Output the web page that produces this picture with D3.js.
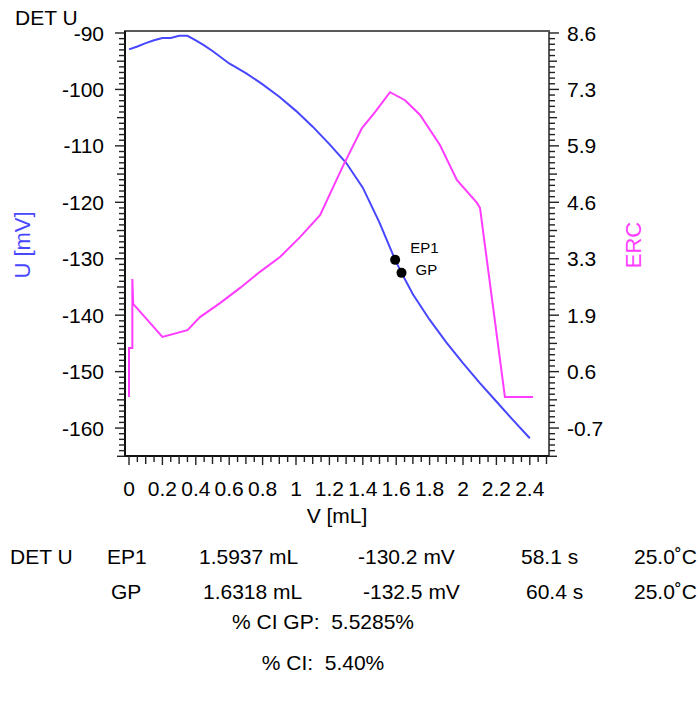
<!DOCTYPE html>
<html>
<head>
<meta charset="UTF-8">
<script src="https://cdn.jsdelivr.net/npm/d3@7"></script>
<style>
  body { margin: 0; background: #fff; }
  text { font-family: "Liberation Sans", Arial, sans-serif; fill: #000; }
</style>
</head>
<body>
<svg width="699" height="703"></svg>
<script>
// titration curve U vs V
var volume = [0, 0.05, 0.1, 0.15, 0.2, 0.25, 0.3, 0.35, 0.4, 0.45, 0.5, 0.6, 0.7, 0.8, 0.9, 1.0,
    1.1, 1.2, 1.3, 1.4, 1.5, 1.5937, 1.6318, 1.7, 1.8, 1.9, 2.0, 2.1, 2.2, 2.3, 2.4];
var potential = [-92.9, -92.4, -91.8, -91.3, -90.9, -90.9, -90.5, -90.5, -91.3, -92.2, -93.2, -95.4, -97.1, -99.1, -101.3, -103.8,
    -106.6, -109.7, -113.0, -117.4, -123.6, -130.2, -132.5, -136.3, -140.8, -144.8, -148.5, -152.0, -155.3, -158.6, -161.8];

// ERC curve
var ercVolume = [0, 0, 0.02, 0.02, 0.025, 0.2, 0.35, 0.425, 0.545, 0.665, 0.784, 0.904, 1.024, 1.144,
    1.281, 1.395, 1.473, 1.563, 1.653, 1.743, 1.862, 1.964, 2.084, 2.102, 2.251, 2.419];
var ercValue = [0.0, 1.16, 1.16, 2.79, 2.2, 1.42, 1.58, 1.89, 2.22, 2.58, 2.96, 3.31, 3.78, 4.30,
    5.46, 6.36, 6.74, 7.21, 7.02, 6.67, 5.96, 5.13, 4.59, 4.47, 0.0, 0.0];

var xTicks = [0, 0.2, 0.4, 0.6, 0.8, 1, 1.2, 1.4, 1.6, 1.8, 2, 2.2, 2.4];
var uTicks = [-90, -100, -110, -120, -130, -140, -150, -160];
var ercTicks = [8.6, 7.3, 5.9, 4.6, 3.3, 1.9, 0.6, -0.7];

var pointNames = ['EP1', 'GP'];
var pointVolume = [1.5937, 1.6318];
var pointPotential = [-130.2, -132.5];

var tableRows = [
    ['DET U', 'EP1', '1.5937 mL', '-130.2 mV', '58.1 s', '25.0\u02daC'],
    ['', 'GP', '1.6318 mL', '-132.5 mV', '60.4 s', '25.0\u02daC']
];
var ciLines = ['% CI GP:  5.5285%', '% CI:  5.40%'];

var svg = d3.select('svg');
var pL = 125, pR = 549, pT = 31, pB = 456;
var fs = '21px';

var x = d3.scaleLinear().domain([-0.024, 2.515]).range([pL, pR]);
var y = d3.scaleLinear().domain([-89.65, -164.95]).range([pT, pB]);
var y2 = d3.scaleLinear().domain([8.61, -0.735]).range([y(-90), y(-160)]);

var blue = '#4747ff', pink = '#ff3cff';

// frame
svg.append('rect')
    .attr('x', pL).attr('y', pT)
    .attr('width', pR - pL).attr('height', pB - pT)
    .attr('fill', 'none').attr('stroke', '#5a5a5a').attr('stroke-width', 2);
svg.append('line').attr('x1', pL).attr('x2', pL).attr('y1', pT).attr('y2', pB + 1)
    .attr('stroke', '#111').attr('stroke-width', 2);
svg.append('line').attr('x1', pL).attr('x2', pR).attr('y1', pB).attr('y2', pB)
    .attr('stroke', '#111').attr('stroke-width', 2);

// ticks
var g = svg.append('g').attr('stroke', '#222').attr('stroke-width', 1.4);
d3.range(0, 76).forEach(function (i) {
    var u = -90 - i;
    var len = i % 10 === 0 ? 10 : (i % 5 === 0 ? 8 : 6);
    g.append('line').attr('x1', pL).attr('x2', pL - len).attr('y1', y(u)).attr('y2', y(u));
    g.append('line').attr('x1', pR).attr('x2', pR + len).attr('y1', y(u)).attr('y2', y(u));
});
d3.range(0, 51).forEach(function (i) {
    var v = i * 0.05;
    var len = i % 4 === 0 ? 9 : (i % 2 === 0 ? 8 : 6);
    g.append('line').attr('x1', x(v)).attr('x2', x(v)).attr('y1', pB).attr('y2', pB + len);
});

// tick labels
svg.selectAll('.ul').data(uTicks).enter().append('text')
    .attr('x', 104).attr('y', function (d) { return y(d); })
    .attr('dy', '0.36em').attr('text-anchor', 'end')
    .style('font-size', fs).text(function (d) { return d; });

svg.selectAll('.el').data(uTicks).enter().append('text')
    .attr('x', 567).attr('y', function (d) { return y(d); })
    .attr('dy', '0.36em')
    .style('font-size', fs).text(function (d, i) { return ercTicks[i]; });

svg.selectAll('.xl').data(xTicks).enter().append('text')
    .attr('x', function (d) { return x(d); }).attr('y', 496)
    .attr('text-anchor', 'middle')
    .style('font-size', fs).text(function (d) { return d; });

// axis titles
svg.append('text').attr('x', 15).attr('y', 25).style('font-size', fs).text('DET U');
svg.append('text').attr('x', 337).attr('y', 523).attr('text-anchor', 'middle')
    .style('font-size', fs).text('V [mL]');
svg.append('text').attr('transform', 'translate(30,245) rotate(-90)').attr('text-anchor', 'middle')
    .style('font-size', '22px').style('fill', blue).text('U [mV]');
svg.append('text').attr('transform', 'translate(641,245) rotate(-90)').attr('text-anchor', 'middle')
    .style('font-size', '22px').style('fill', pink).text('ERC');

// curves
var uLine = d3.line()
    .x(function (d) { return x(volume[d]); })
    .y(function (d) { return y(potential[d]); });
svg.append('path').attr('d', uLine(d3.range(volume.length)))
    .attr('fill', 'none').attr('stroke', blue).attr('stroke-width', 2);

var ercLine = d3.line()
    .x(function (d) { return x(ercVolume[d]); })
    .y(function (d) { return y2(ercValue[d]); });
svg.append('path').attr('d', ercLine(d3.range(ercVolume.length)))
    .attr('fill', 'none').attr('stroke', pink).attr('stroke-width', 2);

// end points
svg.selectAll('.pt').data(pointNames).enter().append('circle')
    .attr('cx', function (d, i) { return x(pointVolume[i]); })
    .attr('cy', function (d, i) { return y(pointPotential[i]); })
    .attr('r', 5).attr('fill', '#000');
svg.selectAll('.ptl').data(pointNames).enter().append('text')
    .attr('x', function (d, i) { return x(pointVolume[i]) + (i === 0 ? 15 : 14); })
    .attr('y', function (d, i) { return y(pointPotential[i]) + (i === 0 ? -7 : 2); })
    .style('font-size', '15px').text(function (d) { return d; });

// results table
var colX = [[10, 107, 199, 358, 521, 697], [10, 111, 203, 363, 526, 697]];
var rowY = [564, 599];
tableRows.forEach(function (row, r) {
    row.forEach(function (cell, c) {
        svg.append('text').attr('x', colX[r][c]).attr('y', rowY[r])
            .attr('text-anchor', c === 5 ? 'end' : 'start')
            .style('font-size', fs).text(cell);
    });
});
svg.selectAll('.ci').data(ciLines).enter().append('text')
    .attr('x', 323).attr('y', function (d, i) { return 629 + i * 41; })
    .attr('text-anchor', 'middle').style('font-size', fs)
    .style('white-space', 'pre')
    .text(function (d) { return d; });
</script>
</body>
</html>
